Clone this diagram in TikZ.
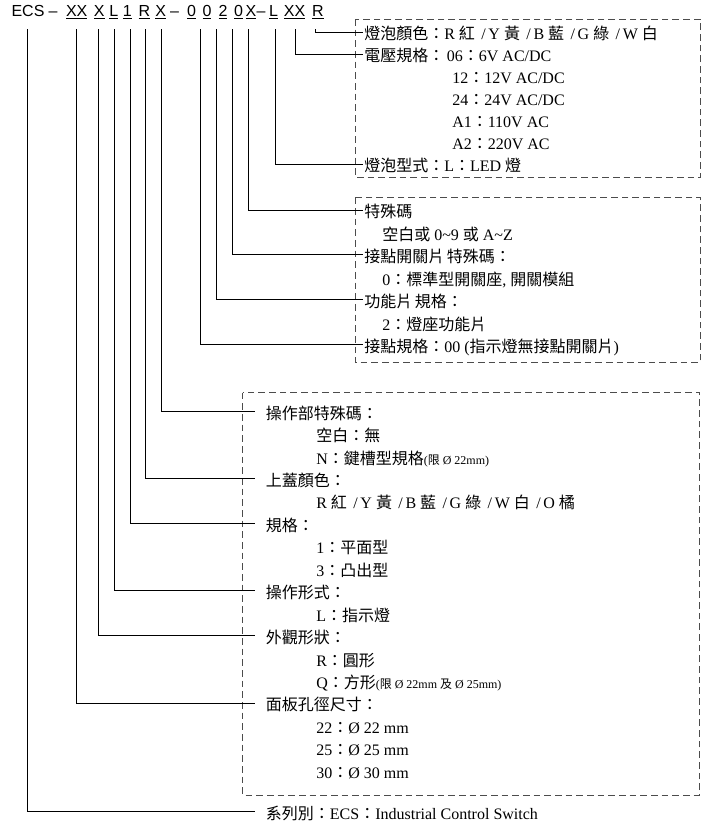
\documentclass[tikz,border=0pt]{standalone}
\usepackage{fontspec}
\setmainfont{Liberation Serif}
\newfontfamily\zhfont{Noto Sans CJK TC}
\newfontfamily\codefont{Liberation Sans}
\newcommand{\zh}[1]{{\zhfont #1}}
\newcommand{\myNote}[1]{{\fontsize{9}{10}\selectfont #1}}
\newcommand{\mySep}{\hspace{0.4em}/\,}
\newcommand{\myLead}[2]{
\draw[lead] (#1) |- (#2.west);
}
\tikzset{
  lbl/.style={anchor=west, inner ysep=0pt, text height=12pt, text depth=0.3pt, font=\fontsize{12}{14}\selectfont},
  lblu/.style={lbl, inner xsep=0.75pt},
  lbll/.style={lbl, inner xsep=8pt},
  sub/.style={lbl, inner xsep=0pt},
  code/.style={anchor=base, inner sep=0pt, font=\codefont\fontsize{12}{14}\selectfont},
  lead/.style={line width=0.75pt},
  dashbox/.style={draw=black!70, line width=0.75pt, dash pattern=on 5pt off 3pt}
}
\begin{document}
\begin{tikzpicture}[x=0.75pt, y=-0.75pt]
	\useasboundingbox (0,0) rectangle (719,833);
	% order code
	\foreach \n/\x/\t in {cECS/28/ECS, cD1/53/\textendash, cXX/76.7/\underline{XX}, cX/99.2/\underline{X},
		cL/113.7/\underline{L}, cOne/127.3/\underline{1}, cR/144.3/\underline{R}, cXb/160.7/\underline{X},
		cD2/174.5/\textendash, cZa/191.5/\underline{0}, cZb/207/\underline{0}, cTwo/223/\underline{2},
		cZc/238.5/\underline{0}, cXc/251/\underline{X}, cD3/261/\textendash, cLb/273.5/\underline{L},
		cXXb/294.5/\underline{XX}, cRb/318/\underline{R}}
		\node[code] (\n) at (\x,16.7) {\t};
	\foreach \n/\x in {sSeries/27.7, sPanel/76, sShape/98.3, sOp/114, sForm/130.3, sCap/145.7, sOpSpec/161.5,
		sPoint/200.2, sFunc/216.8, sContact/232.7, sSpecial/248.5, sType/275, sVolt/295.5, sColor/315.5}
		\coordinate (\n) at (\x,29);

	% boxes
	\draw[dashbox] (355.7,19) rectangle (700,177.7);
	\draw[dashbox] (355,197.3) rectangle (700,362.3);
	\draw[dashbox] (242.7,392.7) rectangle (699.5,795);

	% lamp
	\node[lblu] (lColor) at (363,32) {\zh{燈泡顏色：}R \zh{紅}\mySep Y \zh{黃}\mySep B \zh{藍}\mySep G \zh{綠}\mySep W \zh{白}};
	\node[lblu] (lVolt) at (363,54) {\zh{電壓規格：}\,06\zh{：}6V AC/DC};
	\node[sub] (v12) at (452,76) {12\zh{：}12V AC/DC};
	\node[sub] (v24) at (452,98) {24\zh{：}24V AC/DC};
	\node[sub] (vA1) at (452,120) {A1\zh{：}110V AC};
	\node[sub] (vA2) at (452,142) {A2\zh{：}220V AC};
	\node[lblu] (lType) at (363,164) {\zh{燈泡型式：}L\zh{：}LED \zh{燈}};

	% contact block
	\node[lblu] (lSpecial) at (363,210) {\zh{特殊碼}};
	\node[sub] (vSpecial) at (382,232.45) {\zh{空白或} 0\textasciitilde 9 \zh{或} A\textasciitilde Z};
	\node[lblu] (lContact) at (363,254.9) {\zh{接點開關片}\,\zh{特殊碼：}};
	\node[sub] (vContact) at (382,277.35) {0\zh{：標準型開關座}, \zh{開關模組}};
	\node[lblu] (lFunc) at (363,299.8) {\zh{功能片}\,\zh{規格：}};
	\node[sub] (vFunc) at (382,322.25) {2\zh{：燈座功能片}};
	\node[lblu] (lPoint) at (363,344.7) {\zh{接點規格：}00 (\zh{指示燈無接點開關片})};

	% operator
	\node[lbll] (lOpSpec) at (255,411.3) {\zh{操作部特殊碼：}};
	\node[sub] (vOpA) at (316,433.75) {\zh{空白：無}};
	\node[sub] (vOpB) at (316,456.2) {N\zh{：鍵槽型規格}\myNote{(\zh{限} Ø 22mm)}};
	\node[lbll] (lCap) at (255,478.65) {\zh{上蓋顏色：}};
	\node[sub] (vCap) at (316,501.1) {R \zh{紅}\mySep Y \zh{黃}\mySep B \zh{藍}\mySep G \zh{綠}\mySep W \zh{白}\mySep O \zh{橘}};
	\node[lbll] (lForm) at (255,523.55) {\zh{規格：}};
	\node[sub] (vFormA) at (316,546) {1\zh{：平面型}};
	\node[sub] (vFormB) at (316,568.45) {3\zh{：凸出型}};
	\node[lbll] (lOp) at (255,590.9) {\zh{操作形式：}};
	\node[sub] (vOp) at (316,613.35) {L\zh{：指示燈}};
	\node[lbll] (lShape) at (255,635.8) {\zh{外觀形狀：}};
	\node[sub] (vShapeA) at (316,658.25) {R\zh{：圓形}};
	\node[sub] (vShapeB) at (316,680.7) {Q\zh{：方形}\myNote{(\zh{限} Ø 22mm \zh{及} Ø 25mm)}};
	\node[lbll] (lPanel) at (255,703.15) {\zh{面板孔徑尺寸：}};
	\node[sub] (vPanelA) at (316,725.6) {22\zh{：}Ø 22 mm};
	\node[sub] (vPanelB) at (316,748.05) {25\zh{：}Ø 25 mm};
	\node[sub] (vPanelC) at (316,770.5) {30\zh{：}Ø 30 mm};
	\node[lbll] (lSeries) at (255,811.3) {\zh{系列別：}ECS\zh{：}Industrial Control Switch};

	\myLead{sColor}{lColor}
	\myLead{sVolt}{lVolt}
	\myLead{sType}{lType}
	\myLead{sSpecial}{lSpecial}
	\myLead{sContact}{lContact}
	\myLead{sFunc}{lFunc}
	\myLead{sPoint}{lPoint}
	\myLead{sOpSpec}{lOpSpec}
	\myLead{sCap}{lCap}
	\myLead{sForm}{lForm}
	\myLead{sOp}{lOp}
	\myLead{sShape}{lShape}
	\myLead{sPanel}{lPanel}
	\myLead{sSeries}{lSeries}
\end{tikzpicture}
\end{document}
